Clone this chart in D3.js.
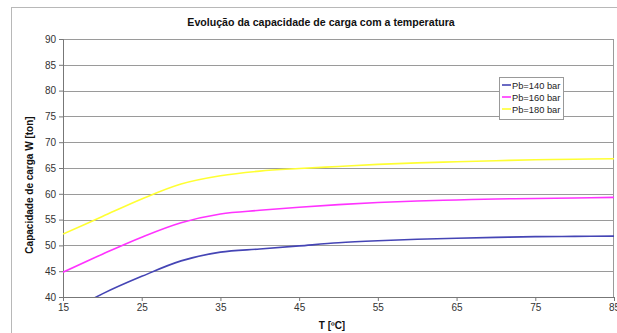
<!DOCTYPE html>
<html>
<head>
<meta charset="utf-8">
<script src="https://cdn.jsdelivr.net/npm/d3@7"></script>
<style>
  body { margin: 0; background: #fff; }
  svg { font-family: "Liberation Sans", Arial, sans-serif; }
</style>
</head>
<body>
<div id="chart"></div>
<script>
// data
var temps = [15, 20, 25, 30, 35, 40, 45, 50, 55, 60, 65, 70, 75, 80, 85];
var pb140 = [36.5, 40.6, 44.0, 47.0, 48.7, 49.3, 49.9, 50.5, 50.9, 51.2, 51.4, 51.55, 51.7, 51.75, 51.8];
var pb160 = [44.8, 48.3, 51.6, 54.4, 56.1, 56.8, 57.4, 57.9, 58.3, 58.6, 58.8, 59.0, 59.1, 59.2, 59.3];
var pb180 = [52.2, 55.6, 59.0, 61.9, 63.5, 64.4, 64.9, 65.3, 65.7, 66.0, 66.2, 66.4, 66.6, 66.7, 66.8];
var seriesNames = ["Pb=140 bar", "Pb=160 bar", "Pb=180 bar"];
var seriesColors = ["#4545b5", "#ff33ff", "#ffff33"];
var xTicks = [15, 25, 35, 45, 55, 65, 75, 85];
var yTicks = [40, 45, 50, 55, 60, 65, 70, 75, 80, 85, 90];

var W = 617, H = 333;
var margin = {left: 63, top: 39, right: 3, bottom: 36};
var width = W - margin.left - margin.right;   // 551
var height = H - margin.top - margin.bottom;  // 258

var svg = d3.select("#chart").append("svg")
    .attr("width", W)
    .attr("height", H);

// outer chart frame
svg.append("rect")
    .attr("x", 11.5).attr("y", 7.5)
    .attr("width", W + 10).attr("height", H + 10)
    .attr("fill", "#fff")
    .attr("stroke", "#b8b8b8");

var x = d3.scaleLinear().domain([15, 85]).range([0, width]);
var y = d3.scaleLinear().domain([40, 90]).range([height, 0]);

var g = svg.append("g")
    .attr("transform", "translate(" + margin.left + "," + margin.top + ")");

// horizontal grid lines
g.append("g")
    .selectAll("line")
    .data(yTicks)
    .enter().append("line")
    .attr("x1", 0).attr("x2", width)
    .attr("y1", d => Math.round(y(d)) + 0.5)
    .attr("y2", d => Math.round(y(d)) + 0.5)
    .attr("stroke", "#9a9a9a");

// right border of plot area
g.append("line")
    .attr("x1", width - 0.5).attr("x2", width - 0.5)
    .attr("y1", 0).attr("y2", height)
    .attr("stroke", "#9a9a9a");

// axes
var xAxis = g.append("g")
    .attr("transform", "translate(0," + height + ")")
    .call(d3.axisBottom(x).tickValues(xTicks).tickSize(4).tickPadding(3));
var yAxis = g.append("g")
    .call(d3.axisLeft(y).tickValues(yTicks).tickSize(4).tickPadding(3));

[xAxis, yAxis].forEach(function (a) {
    a.select(".domain").attr("stroke", "#777");
    a.selectAll(".tick line").attr("stroke", "#777");
    a.selectAll("text")
        .style("font-size", "10px")
        .attr("fill", "#333");
});

// clip lines to plot area
svg.append("defs").append("clipPath")
    .attr("id", "plotclip")
    .append("rect")
    .attr("width", width).attr("height", height);

var allSeries = [pb140, pb160, pb180];
var line = d3.line()
    .x((d, i) => x(temps[i]))
    .y(d => y(d))
    .curve(d3.curveCatmullRom.alpha(0.5));

g.append("g")
    .attr("clip-path", "url(#plotclip)")
    .selectAll("path")
    .data(allSeries)
    .enter().append("path")
    .attr("d", line)
    .attr("fill", "none")
    .attr("stroke", (d, i) => seriesColors[i])
    .attr("stroke-width", 1.6);

// title
svg.append("text")
    .attr("x", 321).attr("y", 26)
    .attr("text-anchor", "middle")
    .style("font-size", "10.6px")
    .style("font-weight", "bold")
    .attr("fill", "#111")
    .text("Evolução da capacidade de carga com a temperatura");

// axis labels
svg.append("text")
    .attr("x", 332).attr("y", 329)
    .attr("text-anchor", "middle")
    .style("font-size", "10px")
    .style("font-weight", "bold")
    .attr("fill", "#111")
    .text("T [ºC]");

svg.append("text")
    .attr("transform", "translate(33,185) rotate(-90)")
    .attr("text-anchor", "middle")
    .style("font-size", "10px")
    .style("font-weight", "bold")
    .attr("fill", "#111")
    .text("Capacidade de carga W [ton]");

// legend
var legend = svg.append("g").attr("transform", "translate(499,77)");
legend.append("rect")
    .attr("x", 0.5).attr("y", 0.5)
    .attr("width", 64).attr("height", 42)
    .attr("fill", "#fff")
    .attr("stroke", "#999");

var items = legend.selectAll(".item")
    .data(seriesNames)
    .enter().append("g")
    .attr("class", "item")
    .attr("transform", (d, i) => "translate(0," + (8 + i * 12) + ")");
items.append("line")
    .attr("x1", 3).attr("x2", 12)
    .attr("y1", 0).attr("y2", 0)
    .attr("stroke", (d, i) => seriesColors[i])
    .attr("stroke-width", 1.6);
items.append("text")
    .attr("x", 13).attr("y", 3.5)
    .style("font-size", "9.3px")
    .attr("fill", "#222")
    .text(d => d);
</script>
</body>
</html>
